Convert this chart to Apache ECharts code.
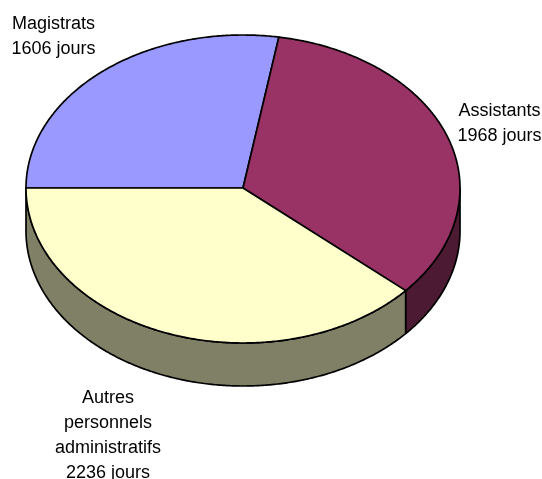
<!DOCTYPE html>
<html>
<head>
<meta charset="utf-8">
<title>Jours par catégorie</title>
<script src="https://cdn.jsdelivr.net/npm/echarts@6/dist/echarts.min.js"></script>
<style>
  html, body { margin: 0; padding: 0; background: #fff; }
  #chart { width: 542px; height: 479px; }
</style>
</head>
<body>
<div id="chart"></div>
<script>
const categories = ['Magistrats', 'Assistants', 'Autres\npersonnels\nadministratifs']
const jours = [1606, 1968, 2236]

const topColors = ['#9999FF', '#993366', '#FFFFCC']
const wallColors = ['#4C4C80', '#4D1A33', '#808066']

// ellipse of the pie top, plus the height of the side wall
// the back half of the reference is a touch flatter than the front
const cx = 243, cy = 188, rx = 217, ryBack = 153, ryFront = 155, depth = 43
const startAngle = 180 // 9 o'clock, going clockwise
const labelSpots = [[53.5, 12], [499.5, 99], [108, 386]]

const total = jours.reduce((a, b) => a + b, 0)

const arcPoints = (from, to, dy) => {
  const pts = []
  const steps = Math.max(2, Math.ceil(Math.abs(to - from) * 2))
  for (let i = 0; i <= steps; i++) {
    const t = (from + (to - from) * i / steps) * Math.PI / 180
    const s = Math.sin(t)
    pts.push([cx + rx * Math.cos(t), cy + dy + (s < 0 ? ryBack : ryFront) * s])
  }
  return pts
}

const renderSlice = (params, api) => {
  const i = params.dataIndex
  const before = jours.slice(0, i).reduce((a, b) => a + b, 0)
  const from = startAngle + before / total * 360
  const to = from + api.value(0) / total * 360
  const line = { stroke: '#000', lineWidth: 1.7, lineJoin: 'round' }
  const children = []

  // only the front half of the wall can be seen (0..180 and 360..540)
  ;[[0, 180], [360, 540]].forEach(([a, b]) => {
    const s = Math.max(from, a), e = Math.min(to, b)
    if (e > s) {
      const upper = arcPoints(s, e, 0)
      const lower = arcPoints(s, e, depth).reverse()
      children.push({
        type: 'polygon',
        shape: { points: upper.concat(lower) },
        style: { fill: wallColors[i], ...line }
      })
    }
  })

  children.push({
    type: 'polygon',
    shape: { points: [[cx, cy]].concat(arcPoints(from, to, 0)) },
    style: { fill: topColors[i], ...line }
  })

  children.push({
    type: 'text',
    x: labelSpots[i][0],
    y: labelSpots[i][1],
    style: {
      text: categories[i] + '\n' + api.value(0) + ' jours',
      align: 'center',
      verticalAlign: 'top',
      lineHeight: 25,
      fill: '#000',
      font: '18px "Liberation Sans", Arial, sans-serif'
    }
  })
  return { type: 'group', children }
}

const chart = echarts.init(document.getElementById('chart'))
chart.setOption({
  animation: false,
  backgroundColor: '#fff',
  series: [{
    type: 'custom',
    coordinateSystem: 'none',
    silent: true,
    renderItem: renderSlice,
    data: jours
  }]
})
</script>
</body>
</html>
